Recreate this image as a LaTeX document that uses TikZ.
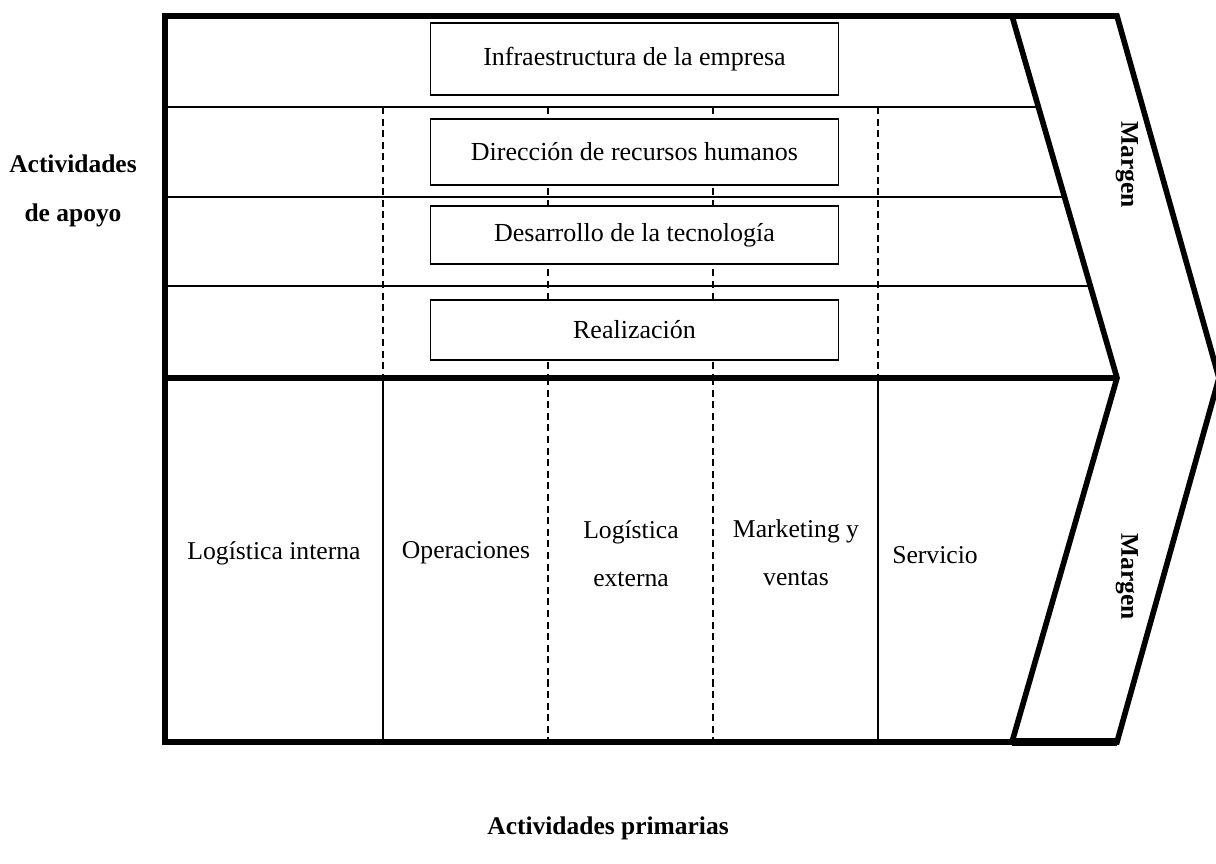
\documentclass[tikz,border=0pt]{standalone}
\usepackage{fontspec}
\setmainfont{Liberation Serif}
\begin{document}
\begin{tikzpicture}[x=0.02cm,y=-0.02cm,
  frame/.style={line width=3.2pt, line join=miter},
  rule/.style={line width=1.1pt},
  dashrule/.style={line width=1.1pt, dash pattern=on 4pt off 2.6pt},
  actbox/.style={draw, line width=1pt, fill=white, minimum width=8.16cm, inner sep=0pt, font=\fontsize{14.8}{17}\selectfont},
  lbl/.style={font=\fontsize{14.6}{27.3}\selectfont, align=center, inner sep=0pt},
  head/.style={font=\fontsize{14.5}{28}\selectfont\bfseries, align=center, inner sep=0pt}]
\useasboundingbox (0,0) rectangle (1216,864);

% outer corners of the value chain
\coordinate (tl) at (165,16);
\coordinate (tr) at (1117,16);
\coordinate (ml) at (165,378);
\coordinate (mi) at (1117,378);
\coordinate (tip) at (1219,378);
\coordinate (bl) at (165,742);
\coordinate (br) at (1117,742);
\coordinate (it) at (1012,16);
\coordinate (ib) at (1012,742);

% row separators of the support activities
\draw[rule] (165,107) -- (1038,107);
\draw[rule] (165,197) -- (1064,197);
\draw[rule] (165,286) -- (1090,286);

% column separators, support part
\foreach \x in {383,548,713,878}
  \draw[dashrule] (\x,107) -- (\x,378);
% column separators, primary part
\draw[rule] (383,378) -- (383,742);
\draw[rule] (878,378) -- (878,742);
\draw[dashrule] (548,378) -- (548,742);
\draw[dashrule] (713,378) -- (713,742);

% support activity boxes
\node[actbox, minimum height=1.44cm] (infra) at (634.5,59) {Infraestructura de la empresa};
\node[actbox, minimum height=1.32cm] (rrhh) at (634.5,152) {Dirección de recursos humanos};
\node[actbox, minimum height=1.16cm] (tec) at (634.5,235) {Desarrollo de la tecnología};
\node[actbox, minimum height=1.2cm] (real) at (634.5,330) {Realización};

% frame and margin chevron
\draw[frame] (tr) -- (tl) -- (bl) -- (br) -- (tip) -- cycle;
\draw[frame] (it) -- (mi) -- (ib);
\draw[frame] (ml) -- (mi);
\draw[line width=4.2pt] (ib) -- (br);

% primary activities
\node[lbl] (lint) at (274,553) {Logística interna};
\node[lbl] (oper) at (466,553) {Operaciones};
\node[lbl] (lext) at (631,554) {Logística\\externa};
\node[lbl] (mkt) at (796,553) {Marketing y\\ventas};
\node[lbl] (serv) at (935,555) {Servicio};

% margin labels
\node[head, rotate=-90] (marg1) at (1127,165) {Margen};
\node[head, rotate=-90] (marg2) at (1127,577) {Margen};

% section headings
\node[head] (apoyo) at (73,191) {Actividades\\de apoyo};
\node[head] (prim) at (608,828) {Actividades primarias};
\end{tikzpicture}
\end{document}
